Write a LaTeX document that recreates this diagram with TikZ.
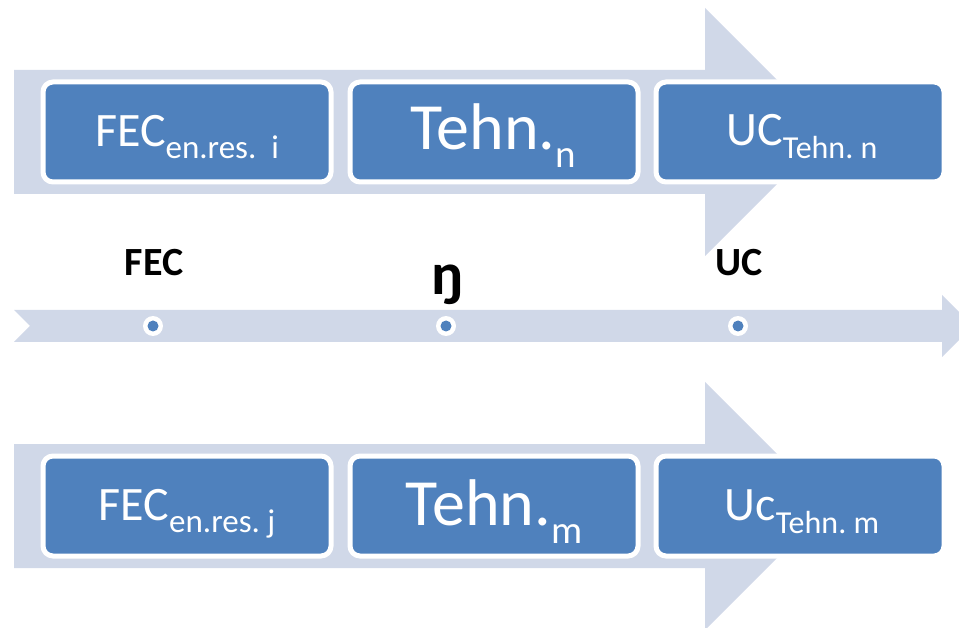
\documentclass[tikz,border=0pt]{standalone}
\usepackage{fontspec}
\setmainfont{Carlito}
\definecolor{lightarrow}{HTML}{D0D8E8}
\definecolor{boxblue}{HTML}{4F81BD}
\begin{document}
\begin{tikzpicture}[x=1pt,y=-1pt,
  bigarrow/.style={fill=lightarrow,draw=none},
  procbox/.style={rectangle,rounded corners=10pt,fill=boxblue,draw=white,line width=5pt,
    minimum width=288pt,minimum height=100pt,inner sep=0pt},
  boxtext/.style={anchor=base,inner sep=0pt,text=white},
  axislabel/.style={anchor=base,inner sep=0pt,text=black,font=\bfseries\fontsize{40}{48}\selectfont},
  dotouter/.style={circle,fill=white,minimum size=20pt,inner sep=0pt},
  dotinner/.style={circle,fill=boxblue,minimum size=11pt,inner sep=0pt}]
\useasboundingbox (0,0) rectangle (959,628);
\begin{scope}
\clip (0,0) rectangle (959,628);
% top process arrow
\fill[bigarrow] (14,70) -- (705,70) -- (705,8) -- (829,132) -- (705,256) -- (705,194) -- (14,194) -- cycle;
% bottom process arrow
\fill[bigarrow] (14,444) -- (705,444) -- (705,382) -- (829,506) -- (705,630) -- (705,568) -- (14,568) -- cycle;
% middle timeline arrow
\fill[bigarrow] (14,310) -- (942,310) -- (942,295) -- (973,326) -- (942,357) -- (942,342) -- (14,342) -- (30,326) -- cycle;
\end{scope}
% top boxes
\node[procbox] (b1) at (187,132) {};
\node[procbox] (b2) at (494,132) {};
\node[procbox] (b3) at (800,132) {};
% bottom boxes
\node[procbox] (c1) at (187,506) {};
\node[procbox] (c2) at (494,506) {};
\node[procbox] (c3) at (800,506) {};
% top texts
\node[boxtext] (t1) at (187,147) {\fontsize{48}{58}\selectfont FEC\raisebox{-12pt}{\fontsize{33}{40}\selectfont en.res.\ \ i}};
\node[boxtext] (t2) at (493,150) {\fontsize{66}{78}\selectfont Tehn.\raisebox{-18pt}{\fontsize{39}{46}\selectfont n}};
\node[boxtext] (t3) at (802,146) {\fontsize{48}{58}\selectfont UC\raisebox{-13pt}{\fontsize{32}{38}\selectfont Tehn.\ n}};
% bottom texts
\node[boxtext] (u1) at (187,520) {\fontsize{48}{58}\selectfont FEC\raisebox{-12pt}{\fontsize{33}{40}\selectfont en.res.\ j}};
\node[boxtext] (u2) at (494,525) {\fontsize{66}{78}\selectfont Tehn.\raisebox{-18pt}{\fontsize{39}{46}\selectfont m}};
\node[boxtext] (u3) at (802,520) {\fontsize{48}{58}\selectfont Uc\raisebox{-13pt}{\fontsize{32}{38}\selectfont Tehn.\ m}};
% timeline dots
\node[dotouter] (d1o) at (153,326) {};
\node[dotinner] (d1) at (153,326) {};
\node[dotouter] (d2o) at (446,326) {};
\node[dotinner] (d2) at (446,326) {};
\node[dotouter] (d3o) at (738,326) {};
\node[dotinner] (d3) at (738,326) {};
% timeline labels
\node[axislabel] (l1) at (154,276) {FEC};
\node[axislabel,font=\bfseries\fontsize{60}{70}\selectfont] (l2) at (448,295) {ŋ};
\node[axislabel] (l3) at (739,276) {UC};
\end{tikzpicture}
\end{document}
